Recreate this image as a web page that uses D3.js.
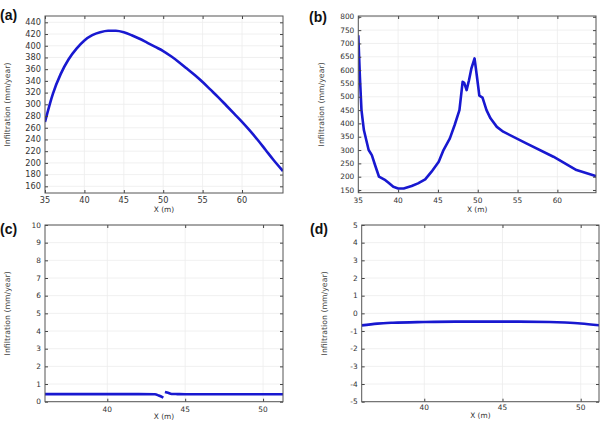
<!DOCTYPE html>
<html>
<head>
<meta charset="utf-8">
<script src="https://cdn.jsdelivr.net/npm/d3@7"></script>
<style>
  body { margin: 0; background: #fff; }
  svg { display: block; font-family: 'DejaVu Sans', sans-serif; }
</style>
</head>
<body>
<svg id="chart" width="601" height="421"></svg>
<script>
// panel (a)
const aX = [35, 36, 37, 38, 39, 40, 41, 42, 43, 44, 45, 46, 47, 48, 49, 50, 51, 52, 53, 54, 55, 56, 57, 58, 59, 60, 61, 62, 63, 64, 65.2]
const aY = [270, 318, 352, 377, 395, 409, 418, 423, 425.5, 425.5, 423, 418, 412, 405, 398, 391, 382, 372, 361, 350, 338, 325, 312, 298, 284, 270, 255, 239, 222, 205, 186]
// panel (b)
const bX = [35, 35.2, 35.4, 35.7, 36.3, 36.7, 37.1, 37.6, 38.4, 38.8, 39.4, 40.0, 40.7, 41.7, 42.5, 43.4, 44.2, 45.1, 45.7, 46.5, 47.1, 47.7, 48.1, 48.3, 48.6, 48.9, 49.2, 49.6, 49.9, 50.2, 50.6, 51.1, 51.6, 52.4, 53.2, 56.1, 59.5, 62.4, 64.9]
const bY = [731, 575, 450, 375, 300, 281, 244, 200, 187, 177, 162, 156, 156, 165, 175, 190, 219, 256, 300, 344, 394, 450, 556, 552, 525, 562, 606, 644, 575, 504, 497, 450, 419, 387, 369, 325, 275, 225, 202]
// panel (c), two pieces
const cX1 = [36, 38, 40, 42, 43.06, 43.3, 43.6]
const cY1 = [0.43, 0.43, 0.43, 0.43, 0.42, 0.35, 0.23]
const cX2 = [43.7, 43.9, 44.13, 44.5, 45, 48, 51.3]
const cY2 = [0.55, 0.5, 0.44, 0.43, 0.42, 0.42, 0.42]
// panel (d)
const dX = [36, 37, 38, 40, 42, 44, 46, 48, 49, 50, 51.2]
const dY = [-0.68, -0.58, -0.53, -0.49, -0.47, -0.47, -0.47, -0.49, -0.52, -0.57, -0.68]

// ticks
const xTicksAB = [35, 40, 45, 50, 55, 60]
const yTicksA = [160, 180, 200, 220, 240, 260, 280, 300, 320, 340, 360, 380, 400, 420, 440]
const yTicksB = [150, 200, 250, 300, 350, 400, 450, 500, 550, 600, 650, 700, 750, 800]
const xTicksCD = [40, 45, 50]
const yTicksC = [0, 1, 2, 3, 4, 5, 6, 7, 8, 9, 10]
const yTicksD = [-5, -4, -3, -2, -1, 0, 1, 2, 3, 4, 5]

const xTitle = 'X (m)'
const yTitle = 'Infiltration (mm/year)'
const lineColor = '#1818d0'

const panels = [
  { name: '(a)', left: 45, right: 283, top: 16, bottom: 193, xDomain: [35, 65.2], yDomain: [148.6, 450.8],
    xTicks: xTicksAB, yTicks: yTicksA, series: [[aX, aY]], fs: 8.2, curve: d3.curveMonotoneX,
    label: [0, 20], yTitleX: 10, xLabelY: 203, xTitleY: 211.5 },
  { name: '(b)', left: 358.3, right: 596, top: 16, bottom: 192.7, xDomain: [35, 64.85], yDomain: [140, 803],
    xTicks: xTicksAB, yTicks: yTicksB, series: [[bX, bY]], fs: 7.4, curve: d3.curveLinear,
    label: [309, 22], yTitleX: 323.5, xLabelY: 203, xTitleY: 211.5 },
  { name: '(c)', left: 45, right: 283, top: 225, bottom: 401.7, xDomain: [36, 51.28], yDomain: [0, 10],
    xTicks: xTicksCD, yTicks: yTicksC, series: [[cX1, cY1], [cX2, cY2]], fs: 7.4, curve: d3.curveMonotoneX,
    label: [0, 234], yTitleX: 10, xLabelY: 411.5, xTitleY: 419 },
  { name: '(d)', left: 361.7, right: 599, top: 225, bottom: 401.7, xDomain: [36, 51.17], yDomain: [-5, 5],
    xTicks: xTicksCD, yTicks: yTicksD, series: [[dX, dY]], fs: 7.4, curve: d3.curveMonotoneX,
    label: [310, 234], yTitleX: 327, xLabelY: 409.5, xTitleY: 417.5 }
]

const svg = d3.select('#chart')

panels.forEach((p, i) => {
  const x = d3.scaleLinear().domain(p.xDomain).range([p.left, p.right])
  const y = d3.scaleLinear().domain(p.yDomain).range([p.bottom, p.top])
  const g = svg.append('g').attr('class', 'panel')

  // grid
  g.selectAll('line.gx').data(p.xTicks).enter().append('line')
    .attr('class', 'gx')
    .attr('x1', d => x(d)).attr('x2', d => x(d))
    .attr('y1', p.top).attr('y2', p.bottom)
    .attr('stroke', '#ececec').attr('stroke-width', 0.8)
  g.selectAll('line.gy').data(p.yTicks).enter().append('line')
    .attr('class', 'gy')
    .attr('x1', p.left).attr('x2', p.right)
    .attr('y1', d => y(d)).attr('y2', d => y(d))
    .attr('stroke', '#ececec').attr('stroke-width', 0.8)

  // data lines
  const clipId = 'clip' + i
  svg.append('clipPath').attr('id', clipId).append('rect')
    .attr('x', p.left).attr('y', p.top - 2)
    .attr('width', p.right - p.left).attr('height', p.bottom - p.top + 4)
  const line = d3.line().x(d => x(d[0])).y(d => y(d[1])).curve(p.curve)
  p.series.forEach(([xs, ys]) => {
    g.append('path')
      .datum(xs.map((v, k) => [v, ys[k]]))
      .attr('clip-path', `url(#${clipId})`)
      .attr('fill', 'none')
      .attr('stroke', lineColor)
      .attr('stroke-width', 2.6)
      .attr('stroke-linejoin', 'round')
      .attr('d', line)
  })

  // axes, ticks inward on all sides
  const tl = -3
  const tk = (sel) => sel.call(s => s.select('.domain').remove())
    .call(s => s.selectAll('.tick line').attr('stroke', '#444'))
  g.append('g').attr('transform', `translate(0,${p.bottom})`)
    .call(d3.axisBottom(x).tickValues(p.xTicks).tickSize(tl).tickFormat(''))
    .call(tk)
  g.append('g').attr('transform', `translate(0,${p.top})`)
    .call(d3.axisTop(x).tickValues(p.xTicks).tickSize(tl).tickFormat(''))
    .call(tk)
  g.append('g').attr('transform', `translate(${p.left},0)`)
    .call(d3.axisLeft(y).tickValues(p.yTicks).tickSize(tl).tickFormat(''))
    .call(tk)
  g.append('g').attr('transform', `translate(${p.right},0)`)
    .call(d3.axisRight(y).tickValues(p.yTicks).tickSize(tl).tickFormat(''))
    .call(tk)

  g.append('rect')
    .attr('x', p.left).attr('y', p.top)
    .attr('width', p.right - p.left).attr('height', p.bottom - p.top)
    .attr('fill', 'none').attr('stroke', '#555').attr('stroke-width', 1)

  // tick labels
  g.selectAll('text.xl').data(p.xTicks).enter().append('text')
    .attr('class', 'xl')
    .attr('x', d => x(d)).attr('y', p.xLabelY)
    .attr('text-anchor', 'middle')
    .attr('font-size', p.fs).attr('fill', '#333')
    .text(d => String(d))
  g.selectAll('text.yl').data(p.yTicks).enter().append('text')
    .attr('class', 'yl')
    .attr('x', p.left - 4).attr('y', d => y(d))
    .attr('dy', '0.35em')
    .attr('text-anchor', 'end')
    .attr('font-size', p.fs).attr('fill', '#333')
    .text(d => String(d))

  // titles
  g.append('text')
    .attr('x', (p.left + p.right) / 2).attr('y', p.xTitleY)
    .attr('text-anchor', 'middle')
    .attr('font-size', 7.4).attr('fill', '#333')
    .text(xTitle)
  g.append('text')
    .attr('transform', `translate(${p.yTitleX},${(p.top + p.bottom) / 2}) rotate(-90)`)
    .attr('text-anchor', 'middle')
    .attr('font-size', 7.8).attr('fill', '#444')
    .text(yTitle)

  g.append('text')
    .attr('x', p.label[0]).attr('y', p.label[1])
    .attr('font-family', "'Liberation Sans', Arial, sans-serif")
    .attr('font-weight', 'bold').attr('font-size', 14)
    .attr('fill', '#111')
    .text(p.name)
})
</script>
</body>
</html>
